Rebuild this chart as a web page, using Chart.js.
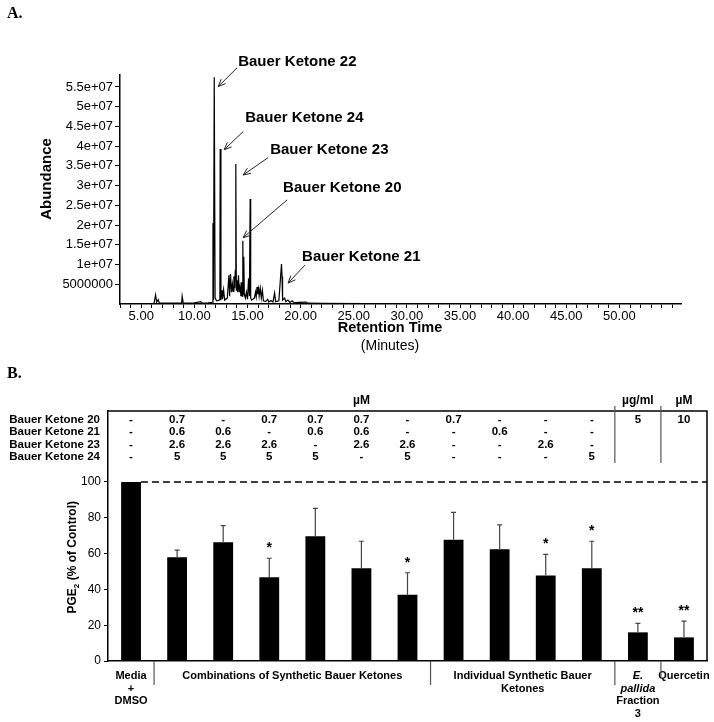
<!DOCTYPE html>
<html>
<head>
<meta charset="utf-8">
<script src="https://cdn.jsdelivr.net/npm/chart.js@4.4.1/dist/chart.umd.min.js"></script>
<style>
  body { margin: 0; background: #fff; width: 714px; height: 722px; position: relative; overflow: hidden; }
  .panel { position: absolute; left: 0; width: 714px; }
  #wrapA { top: 0; height: 360px; }
  #wrapB { top: 360px; height: 362px; }
</style>
</head>
<body>
<div class="panel" id="wrapA"><canvas id="chromChart"></canvas></div>
<div class="panel" id="wrapB"><canvas id="pgeChart"></canvas></div>
<script>
const FONT = "'Liberation Sans', Arial, Helvetica, sans-serif";

// ---- Panel A: GC-MS chromatogram (minutes, abundance in millions)
const retentionTime = [
  3.0, 6.2, 6.35, 6.45, 6.6, 6.7, 8.8, 8.85, 8.95, 9.5, 10.0, 10.6, 10.7, 11.3, 11.6,
  11.72, 11.75, 11.8, 11.87, 11.95, 12.1, 12.4, 12.43, 12.5, 12.6, 12.65, 12.75, 12.85,
  13.1, 13.25, 13.32, 13.4, 13.5, 13.58, 13.65, 13.72, 13.8, 13.85, 13.9, 13.95, 14.0,
  14.08, 14.15, 14.22, 14.3, 14.38, 14.45, 14.5, 14.56, 14.6, 14.65, 14.7, 14.8, 14.9,
  15.0, 15.1, 15.18, 15.25, 15.3, 15.4, 15.5, 15.65, 15.75, 15.82, 15.9, 15.97, 16.05,
  16.1, 16.2, 16.3, 16.4, 16.5, 16.7, 16.9, 17.0, 17.2, 17.4, 17.55, 17.65, 17.95, 18.2,
  18.25, 18.3, 18.5, 18.6, 18.8, 19.0, 19.2, 19.4, 19.8, 20.5, 20.7, 22.0, 26.0, 55.5
];
const abundanceM = [
  0.1, 0.15, 2.3, 0.5, 1.1, 0.2, 0.2, 2.0, 0.3, 0.2, 0.3, 0.6, 0.2, 0.3, 0.4,
  0.5, 20.5, 1.0, 57.5, 1.5, 0.8, 1.0, 39.3, 1.0, 3.5, 1.2, 3.6, 1.0,
  1.5, 7.3, 2.0, 7.6, 3.0, 5.0, 3.2, 7.0, 4.0, 8.5, 35.5, 3.5, 6.0,
  3.0, 7.3, 3.0, 4.5, 2.0, 5.5, 2.0, 16.0, 2.5, 12.0, 2.5, 1.5, 3.0,
  1.2, 6.5, 2.0, 26.6, 1.5, 1.0, 1.2, 1.5, 3.0, 1.8, 4.3, 2.5, 3.8,
  2.0, 4.0, 1.5, 3.5, 0.8, 0.6, 1.2, 0.5, 0.9, 0.5, 2.8, 0.6, 0.8, 10.1,
  7.0, 1.0, 1.5, 0.6, 1.0, 0.4, 0.8, 0.3, 0.4, 0.5, 0.2, 0.15, 0.1, 0.05
];
const abundanceTicksM = [5, 10, 15, 20, 25, 30, 35, 40, 45, 50, 55];
const minuteLabels = [5, 10, 15, 20, 25, 30, 35, 40, 45, 50];
const peakNames = ["Bauer Ketone 22", "Bauer Ketone 24", "Bauer Ketone 23", "Bauer Ketone 20", "Bauer Ketone 21"];

// ---- Panel B: PGE2 (% of control)
const treatments = [
  "Media + DMSO", "BK20+21+23+24", "BK21+23+24", "BK20+23+24", "BK20+21+24", "BK20+21+23",
  "BK23+24", "BK20", "BK21", "BK23", "BK24", "E. pallida Fraction 3", "Quercetin"
];
const pgeMean = [100, 58, 66.3, 46.8, 69.7, 51.8, 37.0, 67.8, 62.4, 47.7, 51.8, 16.0, 13.2];
const pgeSD = [0, 3.9, 9.3, 10.6, 15.6, 15.1, 12.3, 15.2, 13.6, 11.9, 15.1, 5.0, 9.1];
const significance = ["", "", "", "*", "", "", "*", "", "", "*", "*", "**", "**"];
const pgeTicks = [0, 20, 40, 60, 80, 100];

const rowNames = ["Bauer Ketone 20", "Bauer Ketone 21", "Bauer Ketone 23", "Bauer Ketone 24"];
const bk20Conc = ["-", "0.7", "-", "0.7", "0.7", "0.7", "-", "0.7", "-", "-", "-", "5", "10"];
const bk21Conc = ["-", "0.6", "0.6", "-", "0.6", "0.6", "-", "-", "0.6", "-", "-", "", ""];
const bk23Conc = ["-", "2.6", "2.6", "2.6", "-", "2.6", "2.6", "-", "-", "2.6", "-", "", ""];
const bk24Conc = ["-", "5", "5", "5", "5", "-", "5", "-", "-", "-", "5", "", ""];
const unitHeads = [{ from: 0, to: 10, text: "\u00b5M" }, { from: 11, to: 11, text: "\u00b5g/ml" }, { from: 12, to: 12, text: "\u00b5M" }];

const groupNames = [
  ["Media", "+", "DMSO"],
  ["Combinations of Synthetic Bauer Ketones"],
  ["Individual Synthetic Bauer", "Ketones"],
  ["E.", "pallida", "Fraction", "3"],
  ["Quercetin"]
];
const groupRanges = [[0, 0], [1, 6], [7, 10], [11, 11], [12, 12]];

// arrow annotations in data units: [minutes, abundance M]
const peakNotes = [
  { label: [14.12, 61.4], tail: [14.03, 59.9], tip: [12.24, 55.1] },
  { label: [14.78, 47.2], tail: [14.59, 43.7], tip: [12.80, 39.1] },
  { label: [17.13, 39.1], tail: [16.94, 37.1], tip: [14.59, 32.7] },
  { label: [18.35, 29.4], tail: [18.73, 26.4], tip: [14.59, 16.8] },
  { label: [20.14, 11.9], tail: [20.42, 9.9], tip: [18.82, 5.3] }
];

const chromNotes = {
  id: "chromNotes",
  afterDraw(chart) {
    const { ctx, scales: { x, y } } = chart;
    ctx.save();
    ctx.strokeStyle = "#222";
    ctx.fillStyle = "#000";
    ctx.lineWidth = 1;
    peakNotes.forEach((n, i) => {
      const tx = x.getPixelForValue(n.tail[0]), ty = y.getPixelForValue(n.tail[1]);
      const hx = x.getPixelForValue(n.tip[0]), hy = y.getPixelForValue(n.tip[1]);
      const ang = Math.atan2(hy - ty, hx - tx);
      ctx.beginPath();
      ctx.moveTo(tx, ty);
      ctx.lineTo(hx, hy);
      [-1, 1].forEach(s => {
        ctx.moveTo(hx, hy);
        ctx.lineTo(hx - 8 * Math.cos(ang + s * 0.4), hy - 8 * Math.sin(ang + s * 0.4));
      });
      ctx.stroke();
      ctx.font = "bold 15px " + FONT;
      ctx.textAlign = "left";
      ctx.textBaseline = "middle";
      ctx.fillText(peakNames[i], x.getPixelForValue(n.label[0]), y.getPixelForValue(n.label[1]));
    });

    // axis titles and panel letter
    ctx.textAlign = "center";
    ctx.font = "bold 14.5px " + FONT;
    ctx.fillText("Retention Time", 390, 328);
    ctx.font = "14px " + FONT;
    ctx.fillText("(Minutes)", 390, 346);
    ctx.save();
    ctx.translate(47, 179);
    ctx.rotate(-Math.PI / 2);
    ctx.font = "bold 15px " + FONT;
    ctx.fillText("Abundance", 0, 0);
    ctx.restore();
    ctx.textAlign = "left";
    ctx.font = "bold 16px 'Liberation Serif', 'Times New Roman', serif";
    ctx.fillText("A.", 7, 14);
    ctx.restore();
  }
};

const ctxChrom = document.getElementById("chromChart").getContext("2d");
const chromChart = new Chart(ctxChrom, {
  type: "line",
  data: {
    datasets: [
      {
        data: retentionTime.map((t, i) => ({ x: t, y: abundanceM[i] })),
        borderColor: "#000",
        borderWidth: 1.2,
        pointRadius: 0,
        tension: 0,
      },
    ],
  },
  options: {
    animation: false,
    responsive: true,
    maintainAspectRatio: false,
    layout: { padding: { left: 0, right: 33, top: 75, bottom: 0 } },
    plugins: { legend: { display: false }, tooltip: { enabled: false } },
    scales: {
      x: {
        type: "linear",
        min: 3,
        max: 55.8,
        border: { color: "#000", width: 1.5 },
        grid: { drawOnChartArea: false, color: "#000", tickLength: 4 },
        afterBuildTicks: (s) => {
          const ticks = [];
          for (let m = 3; m <= 55; m++) ticks.push({ value: m });
          s.ticks = ticks;
        },
        ticks: {
          autoSkip: false,
          maxRotation: 0,
          color: "#000",
          padding: 1,
          font: { family: FONT, size: 13 },
          callback: (v) => (minuteLabels.includes(v) ? v.toFixed(2) : ""),
        },
        afterFit: (s) => { s.height = 56; },
      },
      y: {
        min: 0,
        max: 58.04,
        border: { color: "#000", width: 1.5 },
        grid: { drawOnChartArea: false, color: "#000", tickLength: 5 },
        afterBuildTicks: (s) => { s.ticks = abundanceTicksM.map((v) => ({ value: v })); },
        ticks: {
          color: "#000",
          padding: 2,
          font: { family: FONT, size: 13 },
          callback: (v) => (v === 5 ? "5000000" : v / 10 + "e+07"),
        },
        afterFit: (s) => { s.width = 120; },
      },
    },
  },
  plugins: [chromNotes],
});

// ---- Panel B extras: table, error bars, stars, group labels
const pgeExtras = {
  id: "pgeExtras",
  afterDatasetsDraw(chart) {
    const { ctx, chartArea: a, scales: { x, y } } = chart;
    const bars = chart.getDatasetMeta(0).data;
    ctx.save();

    // reference line at 100
    const y100 = y.getPixelForValue(100);
    ctx.strokeStyle = "#000";
    ctx.lineWidth = 1.5;
    ctx.setLineDash([7, 4]);
    ctx.beginPath();
    ctx.moveTo(bars[0].x + bars[0].width / 2, y100);
    ctx.lineTo(a.right, y100);
    ctx.stroke();
    ctx.setLineDash([]);

    // error bars and significance marks
    pgeMean.forEach((m, i) => {
      const bx = bars[i].x;
      const yTop = y.getPixelForValue(m + pgeSD[i]);
      if (pgeSD[i] > 0) {
        ctx.strokeStyle = "#444";
        ctx.lineWidth = 1.2;
        ctx.beginPath();
        ctx.moveTo(bx, y.getPixelForValue(m));
        ctx.lineTo(bx, yTop);
        ctx.moveTo(bx - 2.5, yTop);
        ctx.lineTo(bx + 2.5, yTop);
        ctx.stroke();
      }
      if (significance[i]) {
        ctx.fillStyle = "#000";
        ctx.font = "bold 14px " + FONT;
        ctx.textAlign = "center";
        ctx.textBaseline = "alphabetic";
        ctx.fillText(significance[i], bx, yTop - 6);
      }
    });

    // frame: top and right
    ctx.strokeStyle = "#000";
    ctx.lineWidth = 1.5;
    ctx.beginPath();
    ctx.moveTo(a.left, a.top);
    ctx.lineTo(a.right, a.top);
    ctx.lineTo(a.right, a.bottom);
    ctx.stroke();

    // concentration table
    const concRows = [bk20Conc, bk21Conc, bk23Conc, bk24Conc];
    ctx.fillStyle = "#000";
    ctx.font = "bold 11.5px " + FONT;
    ctx.textBaseline = "middle";
    concRows.forEach((row, r) => {
      const ry = a.top + 9 + r * 12.3;
      ctx.textAlign = "right";
      ctx.fillText(rowNames[r], a.left - 8, ry);
      ctx.textAlign = "center";
      row.forEach((v, c) => { if (v) ctx.fillText(v, bars[c].x, ry); });
    });
    ctx.font = "bold 12px " + FONT;
    unitHeads.forEach((u) => {
      ctx.fillText(u.text, (x.getPixelForValue(u.from) + x.getPixelForValue(u.to)) / 2, a.top - 10);
    });
    ctx.strokeStyle = "#555";
    ctx.lineWidth = 1.2;
    [10.5, 11.5].forEach((p) => {
      const sx = x.getPixelForValue(p);
      ctx.beginPath();
      ctx.moveTo(sx, a.top - 5);
      ctx.lineTo(sx, a.top + 52);
      ctx.stroke();
    });

    // group labels under the axis
    groupNames.forEach((lines, g) => {
      const [g0, g1] = groupRanges[g];
      const cx = (bars[g0].x + bars[g1].x) / 2;
      lines.forEach((t, k) => {
        const italic = g === 3 && k < 2;
        ctx.font = (italic ? "italic " : "") + "bold 11px " + FONT;
        ctx.textAlign = "center";
        ctx.fillText(t, cx, a.bottom + 15 + k * 12.5);
      });
    });
    [[0.5, 24], [6.5, 24], [10.5, 24], [11.5, 16]].forEach(([p, len]) => {
      const sx = x.getPixelForValue(p);
      ctx.beginPath();
      ctx.moveTo(sx, a.bottom);
      ctx.lineTo(sx, a.bottom + len);
      ctx.stroke();
    });

    // y title with subscript
    ctx.save();
    ctx.translate(72, a.top + (a.bottom - a.top) * 0.585);
    ctx.rotate(-Math.PI / 2);
    ctx.fillStyle = "#000";
    ctx.textAlign = "left";
    ctx.textBaseline = "alphabetic";
    const big = "bold 12px " + FONT, small = "bold 8px " + FONT;
    ctx.font = big;
    const w1 = ctx.measureText("PGE").width;
    const w3 = ctx.measureText(" (% of Control)").width;
    ctx.font = small;
    const w2 = ctx.measureText("2").width;
    let px = -(w1 + w2 + w3) / 2;
    ctx.font = big;
    ctx.fillText("PGE", px, 4);
    ctx.font = small;
    ctx.fillText("2", px + w1, 7);
    ctx.font = big;
    ctx.fillText(" (% of Control)", px + w1 + w2, 4);
    ctx.restore();

    ctx.textAlign = "left";
    ctx.font = "bold 16px 'Liberation Serif', 'Times New Roman', serif";
    ctx.fillText("B.", 7, 14);
    ctx.restore();
  },
};

const ctxBar = document.getElementById("pgeChart").getContext("2d");
const pgeChart = new Chart(ctxBar, {
  type: "bar",
  data: {
    labels: treatments,
    datasets: [
      {
        data: pgeMean,
        backgroundColor: "#000",
        borderWidth: 0,
        barPercentage: 0.43,
        categoryPercentage: 1,
      },
    ],
  },
  options: {
    animation: false,
    responsive: true,
    maintainAspectRatio: false,
    layout: { padding: { left: 0, right: 7, top: 51, bottom: 0 } },
    plugins: { legend: { display: false }, tooltip: { enabled: false } },
    scales: {
      x: {
        grid: { display: false },
        border: { color: "#000", width: 1.5 },
        ticks: { display: false },
        afterFit: (s) => { s.height = 61; },
      },
      y: {
        min: 0,
        max: 139.66,
        border: { color: "#000", width: 1.5 },
        grid: { drawOnChartArea: false, color: "#000", tickLength: 4 },
        afterBuildTicks: (s) => { s.ticks = pgeTicks.map((v) => ({ value: v })); },
        ticks: { color: "#000", padding: 3, font: { family: FONT, size: 12 } },
        afterFit: (s) => { s.width = 108; },
      },
    },
  },
  plugins: [pgeExtras],
});
</script>
</body>
</html>
